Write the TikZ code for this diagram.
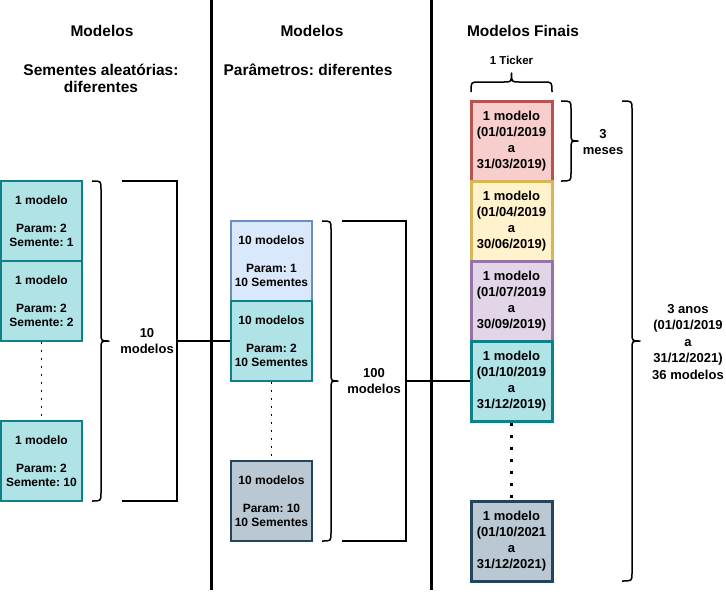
\documentclass[tikz,border=0pt]{standalone}
\usepackage{fontspec}
\setmainfont{Liberation Sans}
\frenchspacing
\begin{document}
\begin{tikzpicture}[x=1pt,y=-1pt]
\definecolor{tealF}{HTML}{B0E3E6}\definecolor{tealS}{HTML}{0E8088}
\definecolor{blueF}{HTML}{DAE8FC}\definecolor{blueS}{HTML}{6C8EBF}
\definecolor{grayF}{HTML}{BAC8D3}\definecolor{grayS}{HTML}{23445D}
\definecolor{redF}{HTML}{F8CECC}\definecolor{redS}{HTML}{B85450}
\definecolor{yelF}{HTML}{FFF2CC}\definecolor{yelS}{HTML}{D6B656}
\definecolor{purF}{HTML}{E1D5E7}\definecolor{purS}{HTML}{9673A6}
\tikzset{
 hdr/.style={font=\fontsize{15.5}{17}\selectfont\bfseries\frenchspacing, align=center, inner sep=0pt},
 lbl/.style={font=\fontsize{13}{16.5}\selectfont\bfseries, align=center, inner sep=0pt},
 smalllbl/.style={font=\fontsize{11.5}{14}\selectfont\bfseries, align=center, inner sep=0pt},
 box/.style={draw, line width=2pt, minimum width=81pt, minimum height=80pt, inner sep=0pt,
   align=center, font=\fontsize{12}{14}\selectfont\bfseries\frenchspacing},
 fbox/.style={draw, line width=3pt, minimum width=81pt, minimum height=80pt, inner sep=0pt,
   align=center, font=\fontsize{13}{16}\selectfont\bfseries},
 sep/.style={line width=3pt},
 bracestyle/.style={line width=1.5pt, line join=round},
 bracketstyle/.style={line width=1.5pt},
 conn/.style={line width=1.5pt},
 finedots/.style={line width=1.6pt, dash pattern=on 1.6pt off 6.4pt},
 bigdots/.style={line width=3pt, dash pattern=on 3pt off 9pt},
}
\newcommand\mybraceV[6]{% xa xs xt yt ym yb
 \draw[bracestyle] (#1,#4) .. controls (#2,#4) .. (#2,#4+8) -- (#2,#5-8)
   .. controls (#2,#5) .. (#3,#5) .. controls (#2,#5) .. (#2,#5+8) -- (#2,#6-8)
   .. controls (#2,#6) .. (#1,#6);}
\useasboundingbox (0,0) rectangle (726,595);
\fill[white] (0,0) rectangle (726,595);

% separators
\draw[sep] (211,0) -- (211,590);
\draw[sep] (431,0) -- (431,590);

% headers
\node[hdr] (h1) at (102,31) {Modelos};
\node[hdr] (h1b) at (101,78) {Sementes aleatórias:\\diferentes};
\node[hdr] (h2) at (312,31) {Modelos};
\node[hdr] (h2b) at (308,70) {Parâmetros: diferentes};
\node[hdr] (h3) at (523,31) {Modelos Finais};

% left column
\node[box, fill=tealF, draw=tealS] (l1) at (41.5,221) {1 modelo\\[14pt]Param: 2\\Semente: 1};
\node[box, fill=tealF, draw=tealS] (l2) at (41.5,301) {1 modelo\\[14pt]Param: 2\\Semente: 2};
\node[box, fill=tealF, draw=tealS] (l3) at (41.5,461) {1 modelo\\[14pt]Param: 2\\Semente: 10};
\draw[finedots] (l2.south) -- (l3.north);
\mybraceV{92}{101}{109}{181}{341}{501}
\draw[bracketstyle] (122,181) -- (177,181) -- (177,501) -- (122,501);
\coordinate (lb) at (177,341);
\node[lbl] (lbt) at (147,341) {10\\modelos};

% middle column
\node[box, fill=blueF, draw=blueS] (m1) at (271.5,261) {10 modelos\\[14pt]Param: 1\\10 Sementes};
\node[box, fill=tealF, draw=tealS] (m2) at (271.5,341) {10 modelos\\[14pt]Param: 2\\10 Sementes};
\node[box, fill=grayF, draw=grayS] (m3) at (271.5,501) {10 modelos\\[14pt]Param: 10\\10 Sementes};
\draw[finedots] (m2.south) -- (m3.north);
\draw[conn] (lb) -- (m2.west);
\mybraceV{322}{331}{338}{221}{381}{541}
\draw[bracketstyle] (342,221) -- (406,221) -- (406,541) -- (342,541);
\coordinate (mb) at (406,381);
\node[lbl] (mbt) at (374,381) {100\\modelos};

% right column
\node[fbox, fill=redF, draw=redS] (r1) at (511.5,141) {1 modelo\\(01/01/2019\\a\\31/03/2019)};
\node[fbox, fill=yelF, draw=yelS] (r2) at (511.5,221) {1 modelo\\(01/04/2019\\a\\30/06/2019)};
\node[fbox, fill=purF, draw=purS] (r3) at (511.5,301) {1 modelo\\(01/07/2019\\a\\30/09/2019)};
\node[fbox, fill=tealF, draw=tealS] (r4) at (511.5,381) {1 modelo\\(01/10/2019\\a\\31/12/2019)};
\node[fbox, fill=grayF, draw=grayS] (r5) at (511.5,541) {1 modelo\\(01/10/2021\\a\\31/12/2021)};
\draw[bigdots] (r4.south) -- (r5.north);
\draw[conn] (mb) -- (r4.west);

% top brace
\draw[bracestyle] (471,92) .. controls (471,82) .. (479,82) -- (503.5,82)
  .. controls (511.5,82) .. (511.5,73) .. controls (511.5,82) .. (519.5,82)
  -- (544,82) .. controls (552,82) .. (552,92);
\node[smalllbl] (tk) at (511.5,60) {1 Ticker};

% 3 meses brace
\mybraceV{561}{571}{578}{101}{141}{181}
\node[lbl] (tm) at (603,142) {3\\meses};

% 3 anos brace
\mybraceV{622}{632}{640}{101}{341}{581}
\node[lbl] (ta) at (688,342) {3 anos\\(01/01/2019\\a\\31/12/2021)\\36 modelos};
\end{tikzpicture}
\end{document}
